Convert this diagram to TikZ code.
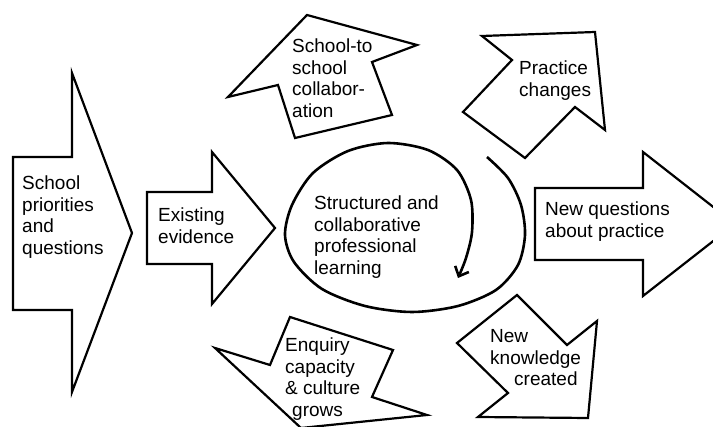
\documentclass[tikz,border=0pt]{standalone}
\usepackage{fontspec}
\setmainfont{Liberation Sans}
\usepackage{tikz}
\usetikzlibrary{arrows.meta}

\tikzset{
	blk/.style={draw, line width=2.2pt, fill=white},
	lbl/.style={anchor=base west, inner sep=0pt, font=\fontsize{19}{21.5}\selectfont},
}
\newcommand{\rows}[1]{\begin{tabular}[t]{@{}l@{}}#1\end{tabular}}

\begin{document}
\begin{tikzpicture}[x=1pt,y=-1pt,>={Straight Barb[length=8pt,width=15pt]}]
		\useasboundingbox (0,0) rectangle (713,427);
		\clip (0,0) rectangle (713,427);
		\draw[blk] (13,157) -- (72,157) -- (72,73) -- (132,233) -- (72,392) -- (72,310) -- (13,310) -- cycle; %priorities
		\draw[blk] (147,192) -- (212,192) -- (212,152) -- (275,228) -- (212,304) -- (212,264) -- (147,264) -- cycle; %evidence
		\draw[blk] (535,188) -- (643,188) -- (643,152) -- (735,224) -- (643,296) -- (643,260) -- (535,260) -- cycle; %new questions
		\draw[blk] (295,138) -- (278,85) -- (228,97) -- (307,15) -- (417,45) -- (372,62) -- (392,115) -- cycle; %collaboration
		\draw[blk] (525,158) -- (463,112) -- (512,60) -- (482,36) -- (595,32) -- (605,130) -- (575,107) -- cycle; %practice
		\draw[blk] (290,317) -- (393,350) -- (372,397) -- (427,415) -- (301,428) -- (215,348) -- (270,365) -- cycle; %enquiry
		\draw[blk] (517,295) -- (567,345) -- (597,321) -- (588,418) -- (478,417) -- (508,393) -- (457,343) -- cycle; %knowledge
		\draw[->,line width=2.6pt,smooth] plot coordinates {(487,157) (508,178) (521,205) (525,235) (518,265) (496,290) (458,306) (412,312) (365,306) (322,289) (294,262) (285,235) (292,205) (313,173) (348,151) (388,143) (428,150) (457,170) (471,200) (472,232) (466,258) (458,278)}; %cycle
		\node[lbl] (prio) at (22,190) {\rows{School\\priorities\\and\\questions}};
		\node[lbl] (exist) at (158,222) {\rows{Existing\\evidence}};
		\node[lbl] (collab) at (292,53) {\rows{School-to\\school\\collabor-\\ation}};
		\node[lbl] (change) at (519,75) {\rows{Practice\\changes}};
		\node[lbl] (learn) at (314,210) {\rows{Structured and\\collaborative\\professional\\learning}};
		\node[lbl] (newq) at (545,216) {\rows{New questions\\about practice}};
		\node[lbl] (enq) at (285,352) {\rows{Enquiry\\capacity\\\& culture\\\hspace{7pt}grows}};
		\node[lbl] (know) at (490,343) {\rows{New\\knowledge\\\hspace{24pt}created}};
	\end{tikzpicture}
\end{document}
